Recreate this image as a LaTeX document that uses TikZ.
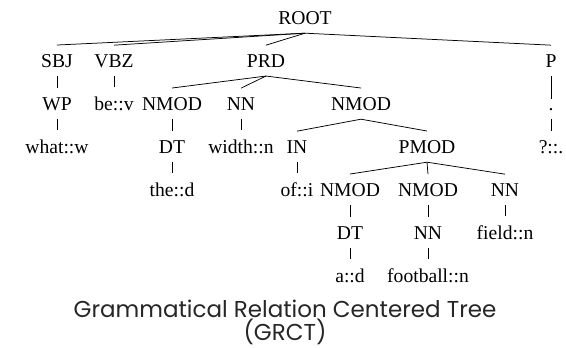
\documentclass[tikz,border=0pt]{standalone}
\usepackage{fontspec}
\setmainfont{Liberation Serif}
\newfontfamily\capfont{Poppins}
\begin{document}
\begin{tikzpicture}[x=1pt,y=-1pt,
  t/.style={anchor=base,inner sep=9pt,outer sep=0pt,font=\fontsize{19.6}{22}\selectfont},
  e/.style={line width=0.75pt,draw=black},
  captext/.style={anchor=base,inner sep=0pt,font=\capfont\fontsize{23}{26}\selectfont,text=black!85}]
\useasboundingbox (0,0) rectangle (566,348);
% row 0
\node[t] (root) at (305,24) {ROOT};
% row 1
\node[t] (sbj) at (57,67) {SBJ};
\node[t] (vbz) at (114,67) {VBZ};
\node[t] (prd) at (266,67) {PRD};
\node[t] (p) at (551,67) {P};
% row 2
\node[t] (wp) at (57,110) {WP};
\node[t] (bev) at (114,110) {be::v};
\node[t] (nmodA) at (172,110) {NMOD};
\node[t] (nnA) at (241,110) {NN};
\node[t] (nmodB) at (361,110) {NMOD};
\node[t] (dot) at (551,110) {.};
% row 3
\node[t] (what) at (57,153) {what::w};
\node[t] (dtA) at (172,153) {DT};
\node[t] (width) at (241,153) {width::n};
\node[t] (in) at (297,153) {IN};
\node[t] (pmod) at (427,153) {PMOD};
\node[t] (qm) at (551,153) {?::.};
% row 4
\node[t] (the) at (172,196) {the::d};
\node[t] (of) at (297,196) {of::i};
\node[t] (nmodC) at (350,196) {NMOD};
\node[t] (nmodD) at (428,196) {NMOD};
\node[t] (nnB) at (505,196) {NN};
% row 5
\node[t] (dtB) at (350,239) {DT};
\node[t] (nnC) at (428,239) {NN};
\node[t] (field) at (505,239) {field::n};
% row 6
\node[t] (ad) at (350,282) {a::d};
\node[t] (football) at (428,282) {football::n};
% edges
\foreach \a/\b in {root/sbj,root/vbz,root/prd,root/p,
  sbj/wp,wp/what,vbz/bev,prd/nmodA,prd/nnA,prd/nmodB,
  nmodA/dtA,dtA/the,nnA/width,nmodB/in,nmodB/pmod,in/of,
  pmod/nmodC,pmod/nmodD,pmod/nnB,nmodC/dtB,dtB/ad,
  nmodD/nnC,nnC/football,nnB/field,p/dot,dot/qm}
  \draw[e] (\a.south) -- (\b.north);
% caption
\node[captext] (c1) at (285,317) {Grammatical Relation Centered Tree};
\node[captext] (c2) at (285,340) {(GRCT)};
\end{tikzpicture}
\end{document}
